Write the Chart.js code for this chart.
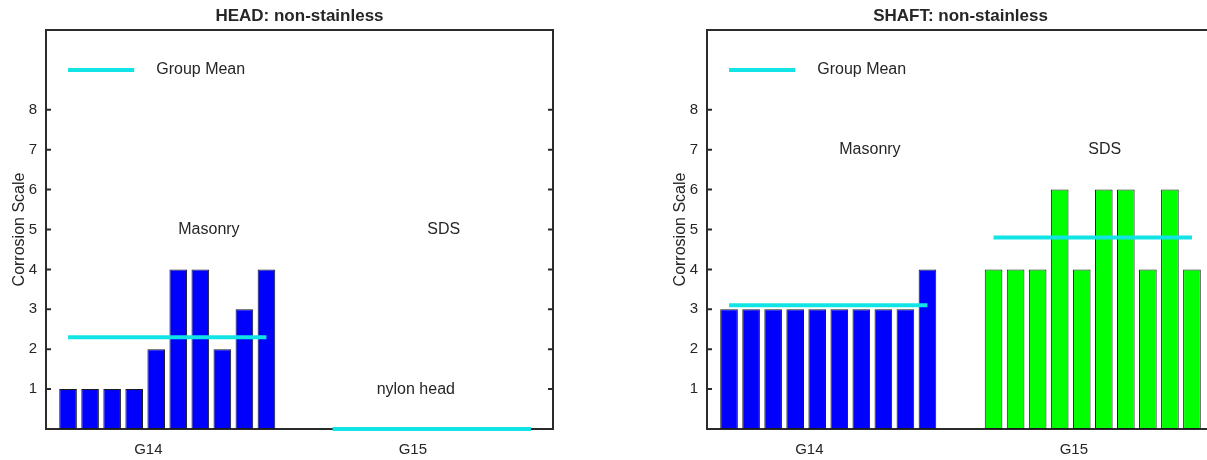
<!DOCTYPE html>
<html>
<head>
<meta charset="utf-8">
<title>Corrosion Scale - non-stainless</title>
<script src="https://cdn.jsdelivr.net/npm/chart.js@4.4.1/dist/chart.umd.min.js"></script>
<style>
  html, body { margin: 0; padding: 0; background: #fff; overflow: hidden; }
  #wrap { position: relative; width: 1207px; height: 460px; overflow: hidden; }
  canvas { position: absolute; top: 0; }
  #headChart { left: 0; }
  #shaftChart { left: 661px; }
</style>
</head>
<body>
<div id="wrap">
  <canvas id="headChart" width="600" height="460"></canvas>
  <canvas id="shaftChart" width="600" height="460"></canvas>
</div>
<script>
// bar positions along the x axis (G14 group, gap, G15 group)
const g14Pos = [1, 2, 3, 4, 5, 6, 7, 8, 9, 10];
const g15Pos = [13, 14, 15, 16, 17, 18, 19, 20, 21, 22];

// HEAD: non-stainless
const headG14 = [1, 1, 1, 1, 2, 4, 4, 2, 3, 4];
const headG15 = [];              // nylon head - nothing rated
const headMeans = [2.3, 0];

// SHAFT: non-stainless
const shaftG14 = [3, 3, 3, 3, 3, 3, 3, 3, 3, 4];
const shaftG15 = [4, 4, 4, 6, 4, 6, 6, 4, 6, 4];
const shaftMeans = [3.1, 4.8];

const yTicks = [1, 2, 3, 4, 5, 6, 7, 8];
const groupLabels = ['G14', 'G15'];
const groupLabelPos = [4, 16];

const TEXT = '#262626';
const CYAN = '#12e4e6';
Chart.defaults.font.family = '"Liberation Sans", Arial, Helvetica, sans-serif';
Chart.defaults.color = TEXT;

// box, inward ticks, legend, notes and title (matlab look)
const framePlugin = {
  id: 'frame',
  beforeDatasetsDraw(chart) {
    const { ctx, chartArea: a, scales: { y } } = chart;
    ctx.save();
    ctx.strokeStyle = '#2b2b2b';
    ctx.lineWidth = 2;
    ctx.strokeRect(a.left, a.top, a.right - a.left, a.bottom - a.top);
    ctx.beginPath();
    yTicks.forEach(v => {
      const py = y.getPixelForValue(v);
      ctx.moveTo(a.left, py); ctx.lineTo(a.left + 5, py);
      ctx.moveTo(a.right, py); ctx.lineTo(a.right - 5, py);
    });
    ctx.stroke();
    ctx.restore();
  },
  afterDatasetsDraw(chart, args, opts) {
    const { ctx, chartArea: a, scales: { x, y } } = chart;
    ctx.save();
    // legend
    const ly = y.getPixelForValue(9);
    ctx.strokeStyle = CYAN;
    ctx.lineWidth = 4;
    ctx.beginPath();
    ctx.moveTo(x.getPixelForValue(1), ly);
    ctx.lineTo(x.getPixelForValue(4), ly);
    ctx.stroke();
    ctx.fillStyle = TEXT;
    ctx.font = '16px "Liberation Sans", Arial, sans-serif';
    ctx.textAlign = 'left';
    ctx.textBaseline = 'middle';
    ctx.fillText('Group Mean', x.getPixelForValue(5), ly);
    // notes
    opts.notes.forEach(n => {
      ctx.fillText(n.text, x.getPixelForValue(n.x), y.getPixelForValue(n.y));
    });
    // title
    ctx.font = 'bold 17px "Liberation Sans", Arial, sans-serif';
    ctx.textAlign = 'center';
    ctx.fillText(opts.title, (a.left + a.right) / 2, 16);
    ctx.restore();
  }
};

function points(pos, vals) {
  return vals.map((v, i) => ({ x: pos[i], y: v }));
}

function makeChart(id, title, g14, g15, means, notes) {
  const barStyle = {
    type: 'bar',
    borderColor: '#1a1a1a',
    borderWidth: 1,
    borderSkipped: false,
    grouped: false,
    barPercentage: 0.8,
    categoryPercentage: 1,
    order: 1
  };
  const meanStyle = {
    type: 'line',
    borderColor: CYAN,
    borderWidth: 4,
    pointRadius: 0,
    clip: false,
    order: 0
  };
  return new Chart(document.getElementById(id), {
    type: 'bar',
    data: {
      datasets: [
        Object.assign({ label: 'G14', data: points(g14Pos, g14), backgroundColor: '#0000ff' }, barStyle),
        Object.assign({ label: 'G15', data: points(g15Pos, g15), backgroundColor: '#00ff00' }, barStyle),
        Object.assign({ label: 'G14 mean', data: [{ x: g14Pos[0], y: means[0] }, { x: g14Pos[g14Pos.length - 1], y: means[0] }] }, meanStyle),
        Object.assign({ label: 'G15 mean', data: [{ x: g15Pos[0], y: means[1] }, { x: g15Pos[g15Pos.length - 1], y: means[1] }] }, meanStyle)
      ]
    },
    options: {
      responsive: false,
      animation: false,
      layout: { padding: { top: 30, right: 47, left: 0, bottom: 0 } },
      plugins: {
        legend: { display: false },
        tooltip: { enabled: false },
        title: { display: false },
        frame: { title: title, notes: notes }
      },
      scales: {
        x: {
          type: 'linear',
          min: 0,
          max: 23,
          offset: false,
          grid: { display: false, drawTicks: false },
          border: { display: false },
          afterBuildTicks: s => { s.ticks = groupLabelPos.map(v => ({ value: v })); },
          afterFit: s => { s.height = 31; },
          ticks: {
            align: 'start',
            autoSkip: false,
            maxRotation: 0,
            padding: 12,
            font: { size: 15 },
            callback: v => groupLabels[groupLabelPos.indexOf(v)]
          }
        },
        y: {
          min: 0,
          max: 10,
          grid: { display: false, drawTicks: false },
          border: { display: false },
          afterBuildTicks: s => { s.ticks = yTicks.map(v => ({ value: v })); },
          afterFit: s => { s.width = 46; },
          ticks: { padding: 9, font: { size: 15 } },
          title: {
            display: true,
            text: 'Corrosion Scale',
            font: { size: 16 },
            padding: { top: 10, bottom: 0 }
          }
        }
      }
    },
    plugins: [framePlugin]
  });
}

makeChart('headChart', 'HEAD: non-stainless', headG14, headG15, headMeans, [
  { text: 'Masonry', x: 6, y: 5 },
  { text: 'SDS', x: 17.3, y: 5 },
  { text: 'nylon head', x: 15, y: 1 }
]);
makeChart('shaftChart', 'SHAFT: non-stainless', shaftG14, shaftG15, shaftMeans, [
  { text: 'Masonry', x: 6, y: 7 },
  { text: 'SDS', x: 17.3, y: 7 }
]);
</script>
</body>
</html>
